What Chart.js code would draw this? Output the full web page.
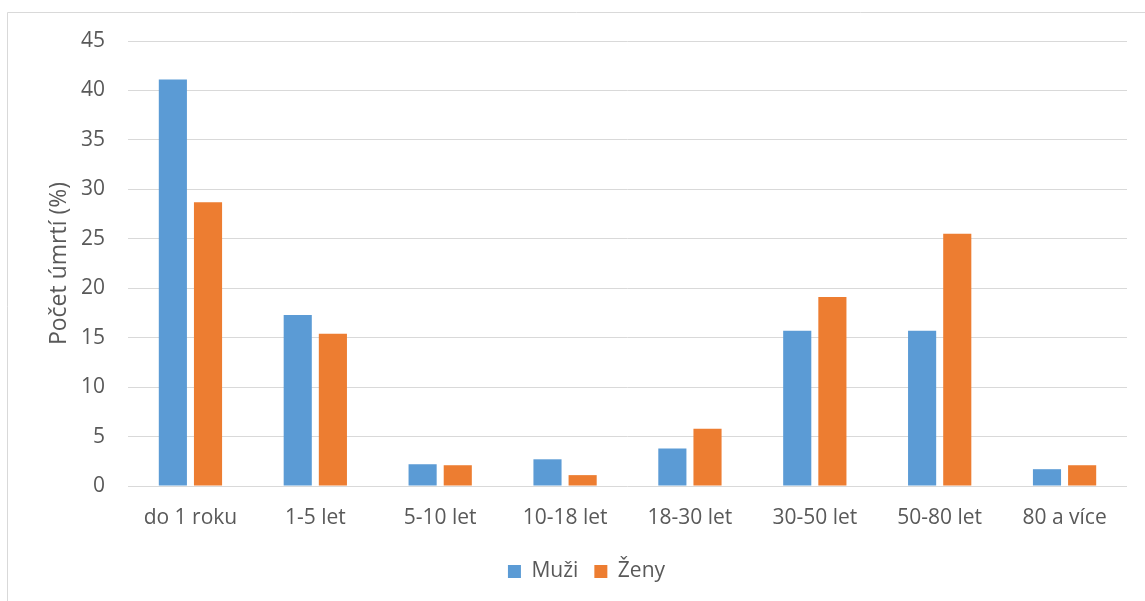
<!DOCTYPE html>
<html>
<head>
<meta charset="utf-8">
<script src="https://cdn.jsdelivr.net/npm/chart.js@4.4.1/dist/chart.umd.min.js"></script>
<style>
  html, body { margin: 0; padding: 0; background: #ffffff; }
  #wrap { position: relative; width: 1145px; height: 601px; }
  canvas { display: block; }
</style>
</head>
<body>
<div id="wrap"><canvas id="c" width="1145" height="601"></canvas></div>
<script>
const categories = ["do 1 roku", "1-5 let", "5-10 let", "10-18 let", "18-30 let", "30-50 let", "50-80 let", "80 a více"];
const muzi = [41.1, 17.3, 2.2, 2.7, 3.8, 15.7, 15.7, 1.7];
const zeny = [28.7, 15.4, 2.1, 1.1, 5.8, 19.1, 25.5, 2.1];
const seriesNames = ["Muži", "Ženy"];
const yTitle = "Počet úmrtí (%)";
const yMin = 0, yMax = 45, yStep = 5;

const TEXT = "#595959";
const GRID = "#d9d9d9";
const FONT = "'Open Sans', 'Noto Sans', sans-serif";

const frame = {
  id: 'frame',
  beforeDraw(chart) {
    const ctx = chart.ctx;
    ctx.save();
    ctx.fillStyle = '#ffffff';
    ctx.fillRect(0, 0, chart.width, chart.height);
    ctx.strokeStyle = GRID;
    ctx.lineWidth = 1;
    ctx.beginPath();
    ctx.moveTo(7.5, chart.height);
    ctx.lineTo(7.5, 12.5);
    ctx.lineTo(chart.width, 12.5);
    ctx.stroke();
    ctx.restore();
  }
};

new Chart(document.getElementById('c'), {
  type: 'bar',
  data: {
    labels: categories,
    datasets: [
      { label: seriesNames[0], data: muzi, backgroundColor: '#5b9bd5', borderWidth: 0 },
      { label: seriesNames[1], data: zeny, backgroundColor: '#ed7d31', borderWidth: 0 }
    ]
  },
  options: {
    responsive: false,
    animation: false,
    devicePixelRatio: 1,
    categoryPercentage: 0.563,
    barPercentage: 0.8,
    layout: { padding: { left: 46, right: 18, top: 41, bottom: 9 } },
    plugins: {
      tooltip: { enabled: false },
      legend: {
        position: 'bottom',
        labels: {
          color: TEXT,
          font: { family: FONT, size: 21 },
          boxWidth: 13,
          boxHeight: 13,
          padding: 16
        }
      }
    },
    scales: {
      x: {
        grid: { display: false, drawTicks: false },
        border: { display: false },
        ticks: { color: TEXT, font: { family: FONT, size: 21 }, padding: 19, maxRotation: 0 },
        afterFit(scale) { scale.height = 59; }
      },
      y: {
        min: yMin,
        max: yMax,
        ticks: { stepSize: yStep, color: TEXT, font: { family: FONT, size: 21 }, padding: 23 },
        grid: { color: GRID, lineWidth: 1, drawTicks: false },
        border: { display: false },
        title: {
          display: true,
          text: yTitle,
          color: TEXT,
          font: { family: FONT, size: 23 },
          padding: { top: 0, bottom: 0 }
        },
        afterFit(scale) { scale.width = 82; }
      }
    }
  },
  plugins: [frame]
});
</script>
</body>
</html>
